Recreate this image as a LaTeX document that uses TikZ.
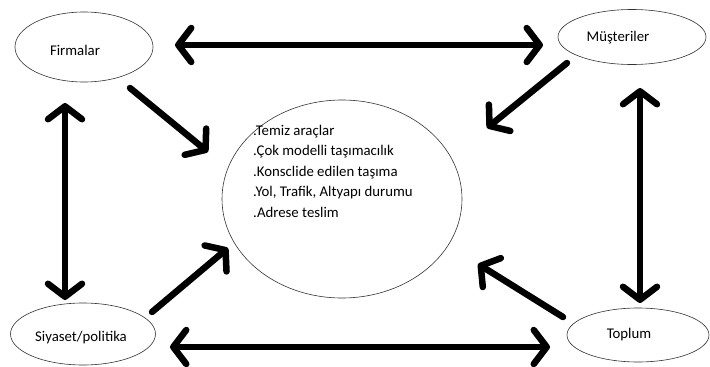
\documentclass[tikz,border=0pt]{standalone}
\usepackage{fontspec}
\setmainfont{Carlito}
\usetikzlibrary{shapes.geometric}
\usetikzlibrary{arrows.meta}

\tikzset{
  kutu/.style={draw=black!80, line width=0.6pt, ellipse, inner sep=0pt},
  yazi/.style={font=\fontsize{14.8}{20.5}\selectfont, inner sep=0pt},
  ok/.style={line width=6.5pt, line cap=round, line join=round,
    -{Straight Barb[length=13pt, width=34pt, line cap=round, line join=round]}},
  ciftok/.style={ok, {Straight Barb[length=13pt, width=34pt, line cap=round, line join=round]}-{Straight Barb[length=13pt, width=34pt, line cap=round, line join=round]}}
}

\begin{document}
\begin{tikzpicture}[x=1pt, y=-1pt]
\useasboundingbox (0, 0) rectangle (710, 367);

% ellipses
\node [kutu, minimum width=138, minimum height=70] (firmalar) at (84, 47) {};
\node [kutu, minimum width=148, minimum height=55] (musteri) at (632, 37) {};
\node [kutu, minimum width=240, minimum height=198] (merkez) at (342, 199) {};
\node [kutu, minimum width=145, minimum height=62] (siyaset) at (83, 334) {};
\node [kutu, minimum width=142, minimum height=54] (toplum) at (638, 335) {};

% labels
\node [yazi] (firmalar-yazi) at (75, 50) {Firmalar};
\node [yazi] (musteri-yazi) at (618, 38) {Müşteriler};
\node [yazi] (siyaset-yazi) at (81, 338) {Siyaset/politika};
\node [yazi] (toplum-yazi) at (629, 335) {Toplum};
\node [yazi, align=left, anchor=north west] (merkez-yazi) at (253, 125) {.Temiz araçlar\\
  .Çok modelli taşımacılık\\
  .Konsclide edilen taşıma\\
  .Yol, Trafik, Altyapı durumu\\
  .Adrese teslim};

% arrow ends
\coordinate (ust-sol) at (175, 45);
\coordinate (ust-sag) at (543, 45);
\coordinate (alt-sol) at (170, 347);
\coordinate (alt-sag) at (550, 347);
\coordinate (sol-ust) at (65, 103);
\coordinate (sol-alt) at (65, 300);
\coordinate (sag-ust) at (640, 88);
\coordinate (sag-alt) at (640, 303);
\coordinate (f-bas) at (130, 88);
\coordinate (f-uc) at (208, 152);
\coordinate (m-bas) at (567, 63);
\coordinate (m-uc) at (487, 128);
\coordinate (s-bas) at (152, 312);
\coordinate (s-uc) at (228, 248);
\coordinate (t-bas) at (563, 317);
\coordinate (t-uc) at (478, 264);

% arrows
\draw [ciftok] (ust-sol) -- (ust-sag);
\draw [ciftok] (alt-sol) -- (alt-sag);
\draw [ciftok] (sol-ust) -- (sol-alt);
\draw [ciftok] (sag-ust) -- (sag-alt);
\draw [ok] (f-bas) -- (f-uc);
\draw [ok] (m-bas) -- (m-uc);
\draw [ok] (s-bas) -- (s-uc);
\draw [ok] (t-bas) -- (t-uc);
\end{tikzpicture}
\end{document}
